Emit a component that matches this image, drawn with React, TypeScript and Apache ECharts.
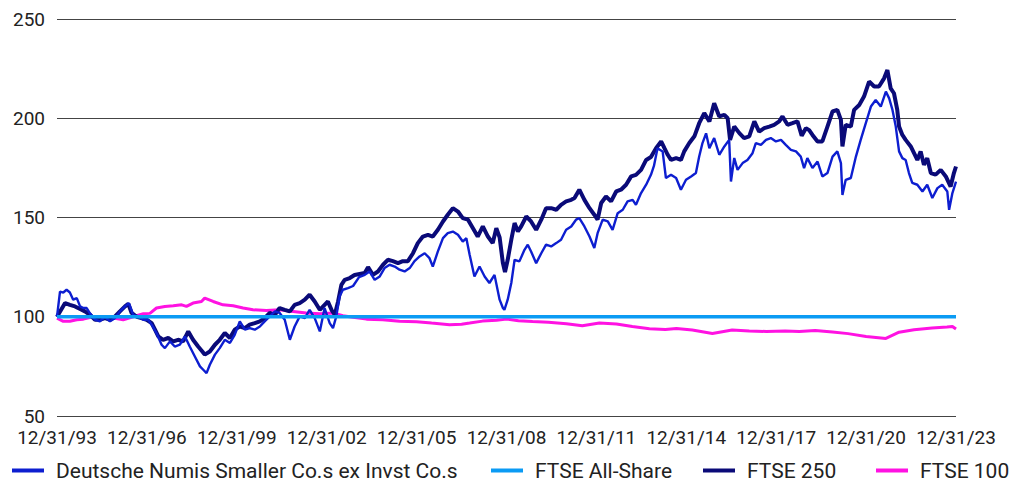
import React, { useEffect, useRef } from "react";
import * as echarts from "echarts";

// x = years since 12/31/93, y = index value
const yearTicks = ["12/31/93", "12/31/96", "12/31/99", "12/31/02", "12/31/05", "12/31/08", "12/31/11", "12/31/14", "12/31/17", "12/31/20", "12/31/23"];

const numisData: [number, number][] = [
  [0, 100], [0.1, 112.7], [0.21, 112.2], [0.32, 113.6], [0.43, 112.2], [0.54, 108.6], [0.66, 109.4], [0.77, 105.2], [0.88, 104.4], [0.99, 104.4],
  [1.1, 101.7], [1.27, 98.5], [1.43, 97.7], [1.6, 100], [1.77, 97.7], [1.93, 99.3], [2.1, 102.7], [2.27, 105.2], [2.4, 106.9], [2.54, 101],
  [2.71, 100], [2.88, 98.5], [3.04, 98.5], [3.16, 96], [3.32, 91.8], [3.49, 85.9], [3.6, 84.2], [3.77, 87.6], [3.93, 85], [4.1, 85.9],
  [4.27, 90.1], [4.43, 85], [4.6, 80], [4.77, 75], [4.88, 73.3], [4.99, 71.6], [5.1, 75.8], [5.27, 80.9], [5.43, 84.2], [5.6, 88.4],
  [5.77, 86.8], [5.93, 90.9], [6.1, 97.7], [6.27, 93.5], [6.43, 94.3], [6.6, 93.5], [6.77, 95.1], [6.93, 97.7], [7.1, 100.2], [7.27, 102.7],
  [7.43, 101.9], [7.6, 98.5], [7.77, 88.4], [7.93, 95.1], [8.1, 100.2], [8.27, 99.3], [8.43, 103.5], [8.6, 99.3], [8.77, 92.6], [8.93, 104.4],
  [9.1, 96.8], [9.21, 94.3], [9.32, 100.2], [9.43, 110.2], [9.54, 113.6], [9.71, 114.4], [9.88, 115.5], [10.08, 120], [10.27, 121.1], [10.43, 122.8],
  [10.6, 118.6], [10.77, 120.3], [10.93, 124.5], [11.1, 126.2], [11.27, 125.3], [11.43, 123.7], [11.6, 122.8], [11.77, 124.5], [11.93, 128], [12.1, 130.4],
  [12.27, 132], [12.43, 129.5], [12.54, 125.3], [12.71, 132.9], [12.88, 139.6], [13.04, 142.1], [13.21, 142.9], [13.38, 141.3], [13.54, 137.9], [13.66, 139.6],
  [13.77, 131.2], [13.93, 120.3], [14.1, 125.3], [14.27, 120.3], [14.43, 117], [14.6, 121.1], [14.77, 108.6], [14.88, 104.4], [14.93, 103.5], [15.04, 108.6],
  [15.16, 117], [15.27, 128.7], [15.43, 127.9], [15.6, 133.7], [15.71, 136.3], [15.82, 132.9], [15.99, 127], [16.16, 132], [16.32, 136.3], [16.49, 135.4],
  [16.66, 137.1], [16.82, 138.8], [16.99, 143.8], [17.16, 145.5], [17.32, 148.9], [17.43, 149.7], [17.6, 145.5], [17.77, 140.4], [17.93, 134.6], [18.04, 142.1],
  [18.21, 148.9], [18.38, 148], [18.54, 143.8], [18.71, 152.2], [18.88, 153.9], [19.04, 158.1], [19.21, 158.9], [19.32, 156.4], [19.49, 162.3], [19.66, 166.5],
  [19.82, 171.5], [19.92, 176], [20.04, 184.9], [20.21, 183.3], [20.32, 169.9], [20.49, 171.5], [20.66, 169.9], [20.82, 164], [20.99, 169], [21.16, 170.7],
  [21.32, 172.4], [21.43, 180.7], [21.54, 187.5], [21.66, 192.4], [21.77, 184.9], [21.93, 190], [22.1, 181.6], [22.27, 185.8], [22.43, 189.1], [22.49, 168.1],
  [22.6, 180], [22.71, 174], [22.88, 177.4], [23.04, 179], [23.21, 182.4], [23.32, 187.5], [23.49, 186.6], [23.66, 189.1], [23.82, 190], [23.99, 188.3],
  [24.16, 189.1], [24.32, 186.6], [24.49, 184.1], [24.66, 183.3], [24.82, 180.7], [24.93, 174.9], [25.04, 179.9], [25.21, 174.9], [25.38, 178.2], [25.54, 170.7],
  [25.71, 172.4], [25.88, 180.7], [26.04, 183.3], [26.16, 177.4], [26.21, 161.4], [26.32, 169], [26.49, 169.9], [26.66, 180.7], [26.82, 189.1], [26.99, 197.5],
  [27.16, 205.9], [27.32, 209.2], [27.49, 205.9], [27.66, 213.4], [27.77, 210], [27.88, 204.2], [27.99, 195.8], [28.1, 183.3], [28.21, 179.9], [28.32, 179],
  [28.43, 172.4], [28.54, 167.4], [28.71, 166.5], [28.88, 163.1], [29.04, 166.5], [29.21, 159.8], [29.38, 164.8], [29.54, 166.5], [29.71, 163.1], [29.77, 153.9],
  [29.88, 162.3], [30, 168.1],
];

const ftse250Data: [number, number][] = [
  [0, 100], [0.27, 106.9], [0.43, 106], [0.6, 105.2], [0.77, 103.9], [0.93, 102.7], [1.1, 101], [1.27, 98.5], [1.43, 98.5], [1.6, 99.3],
  [1.77, 98.5], [1.93, 100], [2.1, 102.7], [2.27, 105.2], [2.38, 106.5], [2.49, 101.9], [2.66, 100], [2.82, 99.3], [2.99, 98.5], [3.16, 96.8],
  [3.27, 93.5], [3.38, 90.1], [3.54, 88.4], [3.71, 89.3], [3.88, 87.6], [4.04, 88.4], [4.21, 87.6], [4.38, 92.6], [4.54, 88.4], [4.71, 85],
  [4.85, 82.5], [4.93, 80.9], [5.1, 82.5], [5.27, 85.9], [5.43, 88.4], [5.6, 91.8], [5.77, 89.3], [5.93, 93.5], [6.1, 95.1], [6.27, 94.3],
  [6.43, 96], [6.6, 96.8], [6.77, 97.7], [6.93, 99.3], [7.1, 101.9], [7.27, 101], [7.43, 104.4], [7.6, 103.5], [7.77, 102.7], [7.93, 106],
  [8.1, 106.9], [8.27, 108.6], [8.43, 111.1], [8.6, 107.7], [8.77, 103.5], [8.93, 106], [9.04, 107.7], [9.16, 103.5], [9.27, 101], [9.38, 107.7],
  [9.49, 116.1], [9.6, 118.6], [9.77, 119.5], [9.93, 121], [10.1, 121.5], [10.27, 122], [10.38, 125], [10.54, 121.1], [10.71, 122.8], [10.88, 126.2],
  [11.04, 128.7], [11.21, 128], [11.38, 127], [11.54, 128], [11.71, 128], [11.88, 132], [12.04, 137.1], [12.21, 140.4], [12.38, 141.3], [12.54, 140.4],
  [12.71, 143.8], [12.88, 148], [13.04, 151.4], [13.21, 154.7], [13.38, 153], [13.54, 149.7], [13.71, 149], [13.88, 144.6], [14.04, 140.4], [14.21, 145.5],
  [14.38, 140.4], [14.54, 137.1], [14.66, 144.6], [14.77, 140], [14.88, 127], [14.95, 122.5], [15.04, 128.7], [15.16, 138.8], [15.27, 147.2], [15.38, 143],
  [15.49, 145.5], [15.66, 150.5], [15.82, 148], [15.99, 143.8], [16.16, 148.9], [16.32, 154.7], [16.49, 154.7], [16.66, 153.9], [16.82, 156.4], [16.99, 158.1],
  [17.16, 158.9], [17.27, 159.8], [17.43, 164], [17.6, 158.9], [17.77, 154.7], [17.93, 151.4], [18.04, 148.9], [18.16, 157.3], [18.32, 160.6], [18.49, 158.1],
  [18.66, 163.1], [18.82, 164], [18.99, 166.5], [19.16, 170.7], [19.32, 171.5], [19.49, 174], [19.66, 179], [19.82, 180.5], [19.99, 184.9], [20.16, 188.3],
  [20.27, 184.9], [20.38, 181.6], [20.49, 179], [20.66, 179.9], [20.82, 179], [20.93, 183.3], [21.1, 187.5], [21.27, 190.9], [21.43, 197.5], [21.6, 202.6],
  [21.77, 198.4], [21.93, 207.6], [22.1, 200.9], [22.27, 201.7], [22.38, 200], [22.46, 189.1], [22.6, 195.8], [22.77, 192.5], [22.93, 190], [23.1, 190.9],
  [23.27, 198.4], [23.43, 193.3], [23.6, 195], [23.77, 195.8], [23.93, 196.7], [24.1, 198.4], [24.21, 200.9], [24.38, 196.7], [24.54, 197.5], [24.71, 198.4],
  [24.85, 191.2], [24.99, 195], [25.1, 194], [25.21, 191.6], [25.38, 188.3], [25.54, 188.3], [25.71, 195.8], [25.88, 203.4], [26.04, 204.2], [26.16, 199.2],
  [26.21, 185.8], [26.32, 196.7], [26.49, 195.8], [26.6, 204.2], [26.77, 206.7], [26.93, 210.9], [27.1, 218.5], [27.27, 216], [27.43, 216], [27.6, 220.1],
  [27.71, 224.3], [27.82, 215.1], [27.93, 212.6], [28.04, 204.2], [28.1, 195.8], [28.21, 191.6], [28.32, 189.1], [28.49, 185.8], [28.6, 182.4], [28.71, 179],
  [28.82, 183.3], [28.93, 176.5], [29.04, 179.9], [29.16, 172.4], [29.32, 171.6], [29.49, 174], [29.66, 170.7], [29.82, 165.6], [29.93, 172.4], [30, 175.7],
];

const allShareData: [number, number][] = [[0, 100], [30, 100]];

const ftse100Data: [number, number][] = [
  [0, 99.3], [0.21, 97.7], [0.43, 97.7], [0.66, 98.5], [0.88, 98.8], [1.21, 100], [1.54, 100], [1.88, 99.3], [2.21, 98.5], [2.54, 100],
  [2.88, 101.5], [3.1, 101.7], [3.32, 104.4], [3.6, 105.2], [3.88, 105.5], [4.16, 106], [4.32, 105.2], [4.54, 106.9], [4.82, 107.7], [4.93, 109.4],
  [5.21, 107.7], [5.54, 106], [5.88, 105.5], [6.21, 104.4], [6.54, 103.5], [6.99, 103.2], [7.43, 103.5], [7.88, 102.7], [8.32, 101.9], [8.77, 101.5],
  [9.21, 101.9], [9.54, 100.5], [9.88, 99.8], [10.33, 98.8], [10.87, 98.5], [11.43, 97.7], [12, 97.5], [12.5, 96.8], [13.1, 96], [13.5, 96.2],
  [13.77, 96.8], [14.2, 97.8], [14.67, 98.2], [15, 98.8], [15.4, 98], [15.87, 97.6], [16.4, 97.2], [17, 96.5], [17.53, 95.5], [18.1, 96.8],
  [18.67, 96.4], [19.2, 95.1], [19.77, 94], [20.3, 93.6], [20.67, 94.1], [21.2, 93.3], [21.87, 91.6], [22.53, 93.3], [23.1, 92.8], [23.67, 92.6],
  [24.3, 92.8], [24.77, 92.6], [25.3, 93.1], [25.88, 92.3], [26.4, 91.5], [27, 90.1], [27.66, 89.1], [28.1, 92.2], [28.6, 93.5], [29.2, 94.3],
  [29.7, 94.8], [29.88, 95.1], [30, 93.8],
];

const seriesNames = ["Deutsche Numis Smaller Co.s ex Invst Co.s", "FTSE All-Share", "FTSE 250", "FTSE 100"];
const seriesColors = ["#0d1ed0", "#0b9bf4", "#0a0a78", "#ff12e2"];
const legendLefts = [12, 491, 703, 876];

const FONT = "Roboto, 'Noto Sans', sans-serif";

export default function App() {
  const ref = useRef<HTMLDivElement>(null);
  useEffect(() => {
    if (!ref.current) return;
    const chart = echarts.init(ref.current, undefined, { renderer: "svg" });
    const lineSeries = (i: number, data: [number, number][], width: number, z: number) => ({
      name: seriesNames[i],
      type: "line",
      data,
      showSymbol: false,
      symbol: "none",
      z,
      lineStyle: { color: seriesColors[i], width },
      itemStyle: { color: seriesColors[i] },
    });
    chart.setOption({
      animation: false,
      backgroundColor: "#ffffff",
      textStyle: { fontFamily: FONT },
      grid: { left: 57, right: 57, top: 19, bottom: 68, containLabel: false },
      legend: seriesNames.map((name, i) => ({
        left: legendLefts[i],
        top: 460,
        padding: 0,
        icon: "rect",
        itemWidth: 32,
        itemHeight: 4,
        selectedMode: false,
        textStyle: { fontFamily: FONT, fontSize: 21, color: "#222", padding: [0, 0, 0, 7] },
        data: [name],
      })),
      xAxis: {
        type: "value",
        min: 0,
        max: 30,
        interval: 3,
        axisLine: { show: false },
        axisTick: { show: false },
        splitLine: { show: false },
        axisLabel: {
          margin: 12,
          fontFamily: FONT,
          fontSize: 19,
          lineHeight: 19,
          color: "#222",
          formatter: (v: number) => yearTicks[Math.round(v / 3)] ?? "",
        },
      },
      yAxis: {
        type: "value",
        min: 50,
        max: 250,
        interval: 50,
        axisLine: { show: false },
        axisTick: { show: false },
        splitLine: { show: true, lineStyle: { color: "#444", width: 1 } },
        axisLabel: { margin: 12, fontFamily: FONT, fontSize: 19, lineHeight: 19, color: "#222" },
      },
      series: [
        lineSeries(0, numisData, 2.4, 3),
        lineSeries(1, allShareData, 3.5, 4),
        lineSeries(2, ftse250Data, 4, 2),
        lineSeries(3, ftse100Data, 3, 1),
      ],
    });
    return () => chart.dispose();
  }, []);
  return <div ref={ref} style={{ position: "fixed", left: 0, top: 0, width: 1013, height: 484 }} />;
}
